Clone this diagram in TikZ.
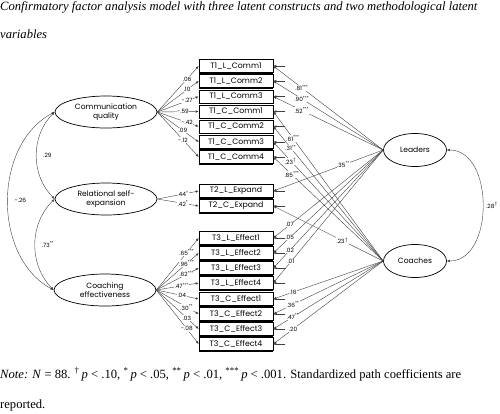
\documentclass[tikz,border=0pt]{standalone}
\usepackage{fontspec}
\setmainfont{Liberation Serif}
\newfontfamily\gothic{Poppins}
\usetikzlibrary{shapes.geometric,arrows.meta}
\tikzset{
  arr/.style={draw=black!75, line width=0.4pt, -{Latex[length=3pt,width=2.4pt]}},
  corr/.style={draw=black!75, line width=0.4pt,
    {Latex[length=3pt,width=2.4pt]}-{Latex[length=3pt,width=2.4pt]}},
  lat/.style={draw, ellipse, line width=0.7pt, minimum width=102pt,
    minimum height=32pt, inner sep=0pt, align=center,
    font=\gothic\fontsize{7.6}{9.5}\selectfont},
  ind/.style={draw, line width=0.6pt, minimum width=74pt, minimum height=13pt,
    inner sep=0pt, font=\gothic\fontsize{7.8}{9}\selectfont,
    append after command={([xshift=12pt]\tikzlastnode.east) edge[arr] (\tikzlastnode.east)
      (\tikzlastnode.south west) edge[line width=1.4pt] (\tikzlastnode.south east)}},
  coef/.style={fill=white, inner sep=0.5pt, font=\gothic\fontsize{5.8}{6}\selectfont},
}
\begin{document}
\begin{tikzpicture}[x=1pt,y=-1pt]
\useasboundingbox (0,0) rectangle (500,413);
\node[anchor=base west, inner sep=0pt, font=\itshape\fontsize{12.6}{15}\selectfont] (title1) at (0,10)
  {Confirmatory factor analysis model with three latent constructs and two methodological latent};
\node[anchor=base west, inner sep=0pt, font=\itshape\fontsize{12.6}{15}\selectfont] (title2) at (0,38) {variables};
% latent variables
\node[lat] (comm) at (106,112) {Communication\\quality};
\node[lat] (rel) at (106,199) {Relational self-\\expansion};
\node[lat] (eff) at (105,290) {Coaching\\effectiveness};
\node[lat, minimum width=63pt, minimum height=33pt] (lead) at (415,150) {Leaders};
\node[lat, minimum width=63pt, minimum height=33pt] (coach) at (415,261) {Coaches};
% indicators
\node[ind] (lc1) at (236,66) {T1\_L\_Comm1};
\node[ind] (lc2) at (236,81) {T1\_L\_Comm2};
\node[ind] (lc3) at (236,96.5) {T1\_L\_Comm3};
\node[ind] (cc1) at (236,111.5) {T1\_C\_Comm1};
\node[ind] (cc2) at (236,126.5) {T1\_C\_Comm2};
\node[ind] (cc3) at (236,142) {T1\_C\_Comm3};
\node[ind] (cc4) at (236,157) {T1\_C\_Comm4};
\node[ind] (le) at (236,191) {T2\_L\_Expand};
\node[ind] (ce) at (236,206) {T2\_C\_Expand};
\node[ind] (lf1) at (236,238) {T3\_L\_Effect1};
\node[ind] (lf2) at (236,253) {T3\_L\_Effect2};
\node[ind] (lf3) at (236,268) {T3\_L\_Effect3};
\node[ind] (lf4) at (236,283) {T3\_L\_Effect4};
\node[ind] (cf1) at (236,299) {T3\_C\_Effect1};
\node[ind] (cf2) at (236,314) {T3\_C\_Effect2};
\node[ind] (cf3) at (236,329) {T3\_C\_Effect3};
\node[ind] (cf4) at (236,344) {T3\_C\_Effect4};
% loadings, constructs
\draw[arr] (comm.east) -- node[coef,pos=.72] {.06} (lc1.west);
\draw[arr] (comm.east) -- node[coef,pos=.72] {.10} (lc2.west);
\draw[arr] (comm.east) -- node[coef,pos=.72] {-.27} (lc3.west);
\draw[arr] (comm.east) -- node[coef,pos=.62] {-.59} (cc1.west);
\draw[arr] (comm.east) -- node[coef,pos=.72] {-.42} (cc2.west);
\draw[arr] (comm.east) -- node[coef,pos=.62] {.09} (cc3.west);
\draw[arr] (comm.east) -- node[coef,pos=.62] {-.12} (cc4.west);
\draw[arr] (rel.east) -- node[coef,pos=.62] {.44\textsuperscript{*}} (le.west);
\draw[arr] (rel.east) -- node[coef,pos=.62] {.42\textsuperscript{*}} (ce.west);
\draw[arr] (eff.east) -- node[coef,pos=.72] {.65\textsuperscript{***}} (lf1.west);
\draw[arr] (eff.east) -- node[coef,pos=.72] {.96\textsuperscript{***}} (lf2.west);
\draw[arr] (eff.east) -- node[coef,pos=.72] {.62\textsuperscript{***}} (lf3.west);
\draw[arr] (eff.east) -- node[coef,pos=.6] {.47\textsuperscript{***}} (lf4.west);
\draw[arr] (eff.east) -- node[coef,pos=.6] {.04} (cf1.west);
\draw[arr] (eff.east) -- node[coef,pos=.72] {.30\textsuperscript{**}} (cf2.west);
\draw[arr] (eff.east) -- node[coef,pos=.72] {.03} (cf3.west);
\draw[arr] (eff.east) -- node[coef,pos=.72] {-.08} (cf4.west);
% loadings, method factors
\draw[arr] (lead.west) -- node[coef,pos=.74] {.81\textsuperscript{***}} (lc1.east);
\draw[arr] (lead.west) -- node[coef,pos=.74] {.90\textsuperscript{***}} (lc2.east);
\draw[arr] (lead.west) -- node[coef,pos=.74] {.52\textsuperscript{***}} (lc3.east);
\draw[arr] (lead.west) -- node[coef,pos=.36] {.35\textsuperscript{**}} (le.east);
\draw[arr] (lead.west) -- node[coef,pos=.85] {.07} (lf1.east);
\draw[arr] (lead.west) -- node[coef,pos=.85] {.05} (lf2.east);
\draw[arr] (lead.west) -- node[coef,pos=.85] {.02} (lf3.east);
\draw[arr] (lead.west) -- node[coef,pos=.84] {.01} (lf4.east);
\draw[arr] (coach.west) -- node[coef,pos=.82] {.61\textsuperscript{***}} (cc1.east);
\draw[arr] (coach.west) -- node[coef,pos=.84] {.31\textsuperscript{**}} (cc2.east);
\draw[arr] (coach.west) -- node[coef,pos=.84] {.23$^\dagger$} (cc3.east);
\draw[arr] (coach.west) -- node[coef,pos=.83] {.85\textsuperscript{***}} (cc4.east);
\draw[arr] (coach.west) -- node[coef,pos=.37] {.23$^\dagger$} (ce.east);
\draw[arr] (coach.west) -- node[coef,pos=.82] {.16} (cf1.east);
\draw[arr] (coach.west) -- node[coef,pos=.82] {.36\textsuperscript{**}} (cf2.east);
\draw[arr] (coach.west) -- node[coef,pos=.82] {.47\textsuperscript{**}} (cf3.east);
\draw[arr] (coach.west) -- node[coef,pos=.82] {.20} (cf4.east);
% correlations
\draw[corr] (comm.west) to[bend right=45] node[coef,right=6pt] {.29} (rel.west);
\draw[corr] (rel.west) to[bend right=45] node[coef,right=6pt] {.73\textsuperscript{**}} (eff.west);
\draw[corr] (comm.west) to[bend right=62] node[coef,right=6pt] {-.26} (eff.west);
\draw[corr] (lead.east) to[out=0,in=0,looseness=1.1] node[coef,right=3pt] {.28$^\dagger$} (coach.east);
% note
\node[anchor=base west, inner sep=0pt, font=\fontsize{12.6}{15}\selectfont] (note1) at (0,378)
  {\textit{Note:} \textit{N} = 88.
  \textsuperscript{\textdagger}\,\textit{p} < .10, \textsuperscript{*}\,\textit{p} < .05,
  \textsuperscript{**}\,\textit{p} < .01, \textsuperscript{***}\,\textit{p} < .001.
  Standardized path coefficients are};
\node[anchor=base west, inner sep=0pt, font=\fontsize{12.6}{15}\selectfont] (note2) at (0,408) {reported.};
\end{tikzpicture}
\end{document}
